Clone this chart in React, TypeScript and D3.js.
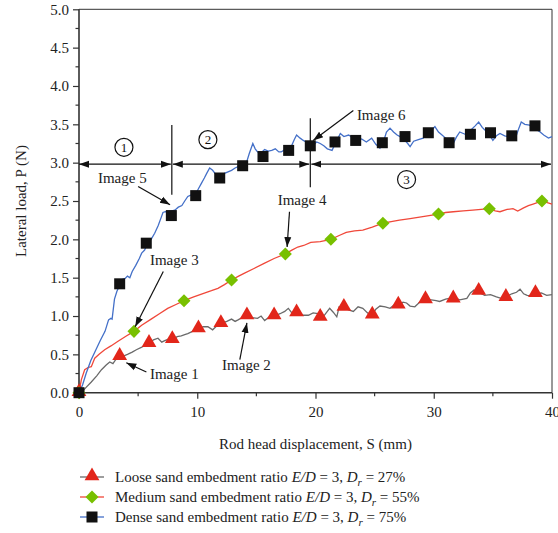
import React, { useEffect, useRef } from 'react'
import * as d3 from 'd3'

// Loose sand (grey line, red triangles)
const looseLine: [number, number][] = [
  [0, 0], [0.2, 0.0], [0.6, 0.07], [1.04, 0.14], [1.5, 0.22], [1.9, 0.3], [2.3, 0.36], [2.6, 0.4], [2.87, 0.38],
  [3.1, 0.43], [3.44, 0.47], [3.8, 0.48], [4.1, 0.5], [4.5, 0.53], [4.85, 0.56], [5.27, 0.59], [5.6, 0.62],
  [5.92, 0.64], [6.3, 0.69], [6.68, 0.71], [7.0, 0.66], [7.25, 0.68], [7.6, 0.7], [7.89, 0.69], [8.3, 0.73],
  [8.65, 0.74], [9.0, 0.76], [9.2, 0.77], [9.6, 0.8], [10.1, 0.83], [10.5, 0.86], [10.9, 0.86], [11.3, 0.82],
  [11.7, 0.88], [12.0, 0.9], [12.5, 0.93], [12.9, 0.96], [13.2, 0.93], [13.45, 0.95], [13.8, 0.98], [14.2, 1.0],
  [14.6, 0.98], [15.1, 0.97], [15.4, 1.0], [15.7, 0.94], [16.1, 0.99], [16.5, 1.0], [17.0, 1.03], [17.4, 1.06],
  [17.7, 1.1], [18.0, 1.04], [18.4, 1.04], [18.8, 1.01], [19.4, 1.01], [19.8, 1.04], [20.2, 1.03], [20.6, 0.98],
  [21.0, 1.06], [21.2, 1.1], [21.5, 1.05], [21.8, 0.99], [22.0, 1.12], [22.4, 1.11], [22.8, 1.08], [23.2, 1.06],
  [23.6, 1.12], [24.0, 1.1], [24.4, 1.04], [24.8, 1.01], [25.1, 1.09], [25.45, 1.13], [25.9, 1.12], [26.3, 1.1],
  [26.7, 1.15], [27.0, 1.14], [27.4, 1.18], [27.7, 1.17], [28.0, 1.13], [28.4, 1.12], [28.8, 1.18], [29.3, 1.22],
  [29.8, 1.21], [30.2, 1.2], [30.5, 1.19], [31.0, 1.22], [31.65, 1.24], [32.2, 1.21], [32.8, 1.23], [33.1, 1.3],
  [33.4, 1.34], [33.8, 1.31], [34.3, 1.27], [34.8, 1.28], [35.3, 1.25], [35.7, 1.23], [36.1, 1.25], [36.6, 1.29],
  [37.0, 1.31], [37.3, 1.35], [37.6, 1.29], [37.9, 1.27], [38.3, 1.26], [38.6, 1.29], [39.1, 1.3], [39.55, 1.27],
  [40.0, 1.28],
]
const looseMarks: [number, number][] = [
  [0, 0], [3.44, 0.47], [5.92, 0.64], [7.89, 0.69], [10.1, 0.83], [12.0, 0.9], [14.2, 1.0], [16.5, 1.0],
  [18.4, 1.04], [20.4, 0.98], [22.4, 1.11], [24.8, 1.01], [27.0, 1.14], [29.3, 1.21], [31.65, 1.22],
  [33.8, 1.32], [36.1, 1.24], [38.6, 1.29],
]

// Medium sand (red line, green diamonds)
const mediumLine: [number, number][] = [
  [0, 0], [0.2, 0.17], [0.48, 0.3], [0.8, 0.33], [1.04, 0.34], [1.2, 0.4], [1.33, 0.45], [1.7, 0.5], [2.17, 0.56],
  [2.7, 0.61], [3.3, 0.67], [4.0, 0.74], [4.65, 0.8], [5.3, 0.88], [6.1, 0.96], [6.8, 1.03], [7.5, 1.1],
  [8.2, 1.15], [8.88, 1.2], [9.7, 1.25], [10.6, 1.3], [11.2, 1.33], [11.75, 1.36], [12.3, 1.41], [12.9, 1.47],
  [13.5, 1.52], [14.0, 1.56], [14.8, 1.62], [15.7, 1.69], [16.5, 1.75], [17.45, 1.81], [18.0, 1.86], [18.5, 1.9],
  [19.0, 1.92], [19.6, 1.96], [20.4, 1.97], [21.3, 2.0], [22.0, 2.05], [22.6, 2.09], [23.3, 2.11], [24.0, 2.12],
  [24.8, 2.16], [25.7, 2.21], [26.4, 2.23], [27.1, 2.25], [28.0, 2.27], [28.8, 2.29], [29.6, 2.31], [30.4, 2.33],
  [31.0, 2.35], [31.65, 2.36], [32.5, 2.37], [33.3, 2.38], [34.0, 2.39], [34.7, 2.4], [35.2, 2.37], [35.6, 2.36],
  [36.2, 2.39], [36.7, 2.4], [37.1, 2.37], [37.6, 2.41], [38.0, 2.44], [38.4, 2.46], [39.15, 2.5], [39.6, 2.48],
  [40.0, 2.46],
]
const mediumMarks: [number, number][] = [
  [0, 0], [4.65, 0.8], [8.88, 1.2], [12.9, 1.47], [17.45, 1.81], [21.3, 2.0], [25.7, 2.21], [30.4, 2.33],
  [34.7, 2.4], [39.15, 2.5],
]

// Dense sand (blue line, black squares)
const denseLine: [number, number][] = [
  [0, 0], [0.3, 0.1], [0.6, 0.25], [1.0, 0.42], [1.4, 0.55], [1.8, 0.68], [2.2, 0.8], [2.5, 0.95], [2.7, 0.97],
  [2.8, 0.96], [3.0, 1.22], [3.2, 1.32], [3.44, 1.4], [3.7, 1.48], [3.9, 1.49], [4.1, 1.52], [4.3, 1.5],
  [4.5, 1.58], [4.8, 1.66], [5.1, 1.75], [5.3, 1.82], [5.55, 1.86], [5.8, 1.95], [6.1, 2.0], [6.4, 2.08],
  [6.7, 2.18], [6.96, 2.29], [7.1, 2.35], [7.3, 2.36], [7.6, 2.36], [8.1, 2.38], [8.4, 2.42], [8.7, 2.44],
  [8.94, 2.5], [9.2, 2.56], [9.5, 2.58], [9.7, 2.62], [9.9, 2.6], [10.1, 2.66], [10.35, 2.73], [10.6, 2.8],
  [10.8, 2.86], [11.05, 2.93], [11.3, 2.9], [11.5, 2.86], [11.8, 2.85], [12.0, 2.83], [12.3, 2.86], [12.6, 2.88],
  [12.9, 2.9], [13.2, 2.93], [13.5, 2.95], [13.8, 2.96], [14.0, 2.97], [14.2, 3.02], [14.4, 3.12], [14.7, 3.25],
  [14.9, 3.18], [15.1, 3.14], [15.4, 3.13], [15.7, 3.17], [16.0, 3.15], [16.3, 3.16], [16.6, 3.18], [16.9, 3.14],
  [17.1, 3.14], [17.4, 3.17], [17.7, 3.18], [17.95, 3.21], [18.2, 3.3], [18.4, 3.36], [18.7, 3.32], [18.97, 3.29],
  [19.3, 3.26], [19.6, 3.23], [19.8, 3.23], [20.1, 3.27], [20.4, 3.25], [20.7, 3.22], [21.0, 3.18], [21.4, 3.16],
  [21.7, 3.26], [22.1, 3.38], [22.4, 3.34], [22.8, 3.36], [23.2, 3.32], [23.6, 3.29], [23.9, 3.31], [24.3, 3.27],
  [24.75, 3.32], [25.1, 3.24], [25.45, 3.19], [25.8, 3.3], [26.0, 3.4], [26.3, 3.45], [26.6, 3.4], [26.9, 3.36],
  [27.15, 3.34], [27.5, 3.3], [27.8, 3.25], [28.0, 3.21], [28.3, 3.28], [28.7, 3.3], [29.1, 3.32], [29.5, 3.38],
  [29.8, 3.42], [30.1, 3.47], [30.4, 3.4], [30.7, 3.36], [31.0, 3.32], [31.3, 3.28], [31.65, 3.25], [31.9, 3.33],
  [32.2, 3.4], [32.5, 3.38], [32.8, 3.36], [33.1, 3.42], [33.5, 3.48], [33.8, 3.53], [34.1, 3.46], [34.5, 3.4],
  [34.8, 3.34], [35.0, 3.29], [35.3, 3.35], [35.6, 3.38], [36.0, 3.35], [36.3, 3.34], [36.7, 3.37], [37.0, 3.36],
  [37.2, 3.45], [37.4, 3.53], [37.7, 3.5], [38.1, 3.49], [38.5, 3.45], [39.0, 3.4], [39.3, 3.36], [39.7, 3.32],
  [40.0, 3.34],
]
const denseMarks: [number, number][] = [
  [0, 0], [3.44, 1.42], [5.69, 1.95], [7.81, 2.31], [9.87, 2.57], [11.9, 2.8], [13.84, 2.96], [15.56, 3.08],
  [17.73, 3.16], [19.56, 3.22], [21.65, 3.27], [23.4, 3.29], [25.65, 3.26], [27.57, 3.34], [29.54, 3.39],
  [31.3, 3.26], [33.1, 3.37], [34.8, 3.39], [36.6, 3.35], [38.56, 3.48],
]

const xTicks = [0, 10, 20, 30, 40]
const yTicks = [0, 0.5, 1, 1.5, 2, 2.5, 3, 3.5, 4, 4.5, 5]
const legendNames = ['Loose', 'Medium', 'Dense']
const legendDr = ['27%', '55%', '75%']

// Stage boundaries and stage labels
const stageBounds = [0, 7.85, 19.56, 40]
const stageY = 2.98
const stageLabels = [
  { n: '1', x: 3.8, y: 3.2 },
  { n: '2', x: 10.9, y: 3.3 },
  { n: '3', x: 27.7, y: 2.78 },
]
// text position, arrow start, arrow end (data coords)
const imageNotes = [
  { t: 'Image 1', tx: 6.0, ty: 0.18, a: [5.7, 0.27], b: [4.0, 0.39] },
  { t: 'Image 2', tx: 12.1, ty: 0.29, a: [13.6, 0.43], b: [14.2, 0.91] },
  { t: 'Image 3', tx: 6.0, ty: 1.66, a: [7.13, 1.58], b: [4.75, 0.86] },
  { t: 'Image 4', tx: 16.8, ty: 2.45, a: [17.8, 2.36], b: [17.6, 1.90] },
  { t: 'Image 5', tx: 1.6, ty: 2.73, a: [5.0, 2.69], b: [7.7, 2.45] },
  { t: 'Image 6', tx: 23.5, ty: 3.55, a: [23.2, 3.68], b: [19.8, 3.29] },
]

const W = 558
const H = 533
const font = 'Liberation Serif'

export default function App() {
  const ref = useRef<SVGSVGElement>(null)

  useEffect(() => {
    const svg = d3.select(ref.current)
    svg.selectAll('*').remove()

    const x = d3.scaleLinear().domain([0, 40]).range([79, 552])
    const y = d3.scaleLinear().domain([0, 5]).range([392.7, 9.3])

    const defs = svg.append('defs')
    defs.append('marker')
      .attr('id', 'arr')
      .attr('viewBox', '0 0 10 10')
      .attr('refX', 10).attr('refY', 5)
      .attr('markerWidth', 10).attr('markerHeight', 10)
      .attr('markerUnits', 'userSpaceOnUse')
      .attr('orient', 'auto-start-reverse')
      .append('path').attr('d', 'M0,1.5 L10,5 L0,8.5 Z').attr('fill', '#111')

    // frame top / right
    svg.append('path')
      .attr('d', `M${x(0)},${y(5)} H${x(40)} V${y(0)}`)
      .attr('fill', 'none').attr('stroke', '#333').attr('stroke-width', 1)

    // axes
    const yAxis = svg.append('g').attr('transform', `translate(${x(0)},0)`)
      .call(d3.axisLeft(y).tickValues(yTicks).tickSize(6).tickPadding(4).tickFormat(d3.format('.1f')))
    yAxis.append('g').selectAll('line').data(d3.range(0.25, 5, 0.5)).enter().append('line')
      .attr('x1', -3.5).attr('x2', 0).attr('y1', d => y(d)).attr('y2', d => y(d))
      .attr('stroke', '#333').attr('stroke-width', 1.2)

    const xAxis = svg.append('g').attr('transform', `translate(0,${y(0)})`)
      .call(d3.axisBottom(x).tickValues(xTicks).tickSize(6).tickPadding(8).tickFormat(d3.format('d')))
    xAxis.append('g').selectAll('line').data([5, 15, 25, 35]).enter().append('line')
      .attr('x1', d => x(d)).attr('x2', d => x(d)).attr('y1', 0).attr('y2', 3.5)
      .attr('stroke', '#333').attr('stroke-width', 1.2)

    for (const ax of [xAxis, yAxis]) {
      ax.attr('font-family', font).attr('font-size', 15)
      ax.select('.domain').attr('stroke', '#333').attr('stroke-width', 1.6)
      ax.selectAll('.tick line').attr('stroke', '#333').attr('stroke-width', 1.2)
      ax.selectAll('text').attr('fill', '#222')
    }
    yAxis.select('.domain').attr('d', `M0,${y(0)}V${y(5)}`)
    xAxis.select('.domain').attr('d', `M${x(0)},0H${x(40)}`)

    // stage annotations
    const ann = svg.append('g')
    ann.selectAll('.vline').data([stageBounds[1], stageBounds[2]]).enter().append('line')
      .attr('x1', d => x(d)).attr('x2', d => x(d))
      .attr('y1', (d, i) => y(i === 0 ? 3.49 : 3.58)).attr('y2', (d, i) => y(i === 0 ? 2.58 : 2.68))
      .attr('stroke', '#111').attr('stroke-width', 1.2)
    for (let i = 0; i < 3; i++) {
      ann.append('line')
        .attr('x1', x(stageBounds[i]) + (i === 0 ? 0 : 1)).attr('x2', x(stageBounds[i + 1]) - 1)
        .attr('y1', y(stageY)).attr('y2', y(stageY))
        .attr('stroke', '#111').attr('stroke-width', 1.3)
        .attr('marker-start', 'url(#arr)').attr('marker-end', 'url(#arr)')
    }
    const circ = ann.selectAll('.stage').data(stageLabels).enter().append('g')
      .attr('transform', d => `translate(${x(d.x)},${y(d.y)})`)
    circ.append('circle').attr('r', 9).attr('fill', 'white').attr('stroke', '#111').attr('stroke-width', 1.2)
    circ.append('text').text(d => d.n).attr('text-anchor', 'middle').attr('dy', '0.35em')
      .attr('font-family', font).attr('font-size', 13).attr('fill', '#111')

    // curves
    const line = d3.line<[number, number]>().x(d => x(d[0])).y(d => y(d[1]))
    const curves = [
      { data: looseLine, color: '#6a6a6a' },
      { data: mediumLine, color: '#f0483a' },
      { data: denseLine, color: '#4470c8' },
    ]
    svg.append('g').selectAll('path').data(curves).enter().append('path')
      .attr('d', d => line(d.data))
      .attr('fill', 'none').attr('stroke', d => d.color).attr('stroke-width', 1.3)

    // markers
    const tri = d3.symbol().type(d3.symbolTriangle).size(95)
    const dia = d3.symbol().type(d3.symbolSquare).size(85)
    svg.append('g').selectAll('path').data(looseMarks).enter().append('path')
      .attr('d', tri).attr('transform', d => `translate(${x(d[0])},${y(d[1]) - 1})`).attr('fill', '#e2261a')
    svg.append('g').selectAll('path').data(mediumMarks).enter().append('path')
      .attr('d', dia).attr('transform', d => `translate(${x(d[0])},${y(d[1])}) rotate(45)`).attr('fill', '#78c000')
    svg.append('g').selectAll('rect').data(denseMarks).enter().append('rect')
      .attr('x', d => x(d[0]) - 5.5).attr('y', d => y(d[1]) - 5.5).attr('width', 11).attr('height', 11)
      .attr('fill', '#111')

    // image notes
    const notes = svg.append('g').selectAll('g').data(imageNotes).enter().append('g')
    notes.append('line')
      .attr('x1', d => x(d.a[0])).attr('y1', d => y(d.a[1]))
      .attr('x2', d => x(d.b[0])).attr('y2', d => y(d.b[1]))
      .attr('stroke', '#111').attr('stroke-width', 1.2).attr('marker-end', 'url(#arr)')
    notes.append('text').text(d => d.t).attr('x', d => x(d.tx)).attr('y', d => y(d.ty))
      .attr('font-family', font).attr('font-size', 15).attr('fill', '#222')

    // axis titles
    svg.append('text').text('Lateral load, P (N)')
      .attr('transform', `translate(26,${(y(0) + y(5)) / 2}) rotate(-90)`)
      .attr('text-anchor', 'middle').attr('font-family', font).attr('font-size', 15).attr('fill', '#222')
    svg.append('text').text('Rod head displacement, S (mm)')
      .attr('x', x(20)).attr('y', 449).attr('text-anchor', 'middle')
      .attr('font-family', font).attr('font-size', 15).attr('fill', '#222')

    // legend
    const lg = svg.append('g').attr('transform', 'translate(80,477)')
    const row = lg.selectAll('g').data(legendNames).enter().append('g')
      .attr('transform', (d, i) => `translate(0,${i * 20})`)
    row.append('line').attr('x1', 0).attr('x2', 24).attr('y1', 0).attr('y2', 0)
      .attr('stroke', (d, i) => curves[i].color).attr('stroke-width', 1.3)
    row.filter((d, i) => i === 0).append('path').attr('d', tri).attr('transform', 'translate(12,-1)').attr('fill', '#e2261a')
    row.filter((d, i) => i === 1).append('path').attr('d', dia).attr('transform', 'translate(12,0) rotate(45)').attr('fill', '#78c000')
    row.filter((d, i) => i === 2).append('rect').attr('x', 6.5).attr('y', -5.5).attr('width', 11).attr('height', 11).attr('fill', '#111')
    const txt = row.append('text').attr('x', 35).attr('y', 5)
      .attr('font-family', font).attr('font-size', 15).attr('fill', '#222')
    txt.append('tspan').text(d => `${d} sand embedment ratio `)
    txt.append('tspan').text('E/D').attr('font-style', 'italic')
    txt.append('tspan').text(' = 3, ')
    txt.append('tspan').text('D').attr('font-style', 'italic')
    txt.append('tspan').text('r').attr('font-style', 'italic').attr('font-size', 11).attr('dy', 4)
    txt.append('tspan').text((d, i) => ` = ${legendDr[i]}`).attr('dy', -4)
  }, [])

  return (
    <svg ref={ref} width={W} height={H} style={{ position: 'absolute', left: 0, top: 0, background: 'white' }} />
  )
}
